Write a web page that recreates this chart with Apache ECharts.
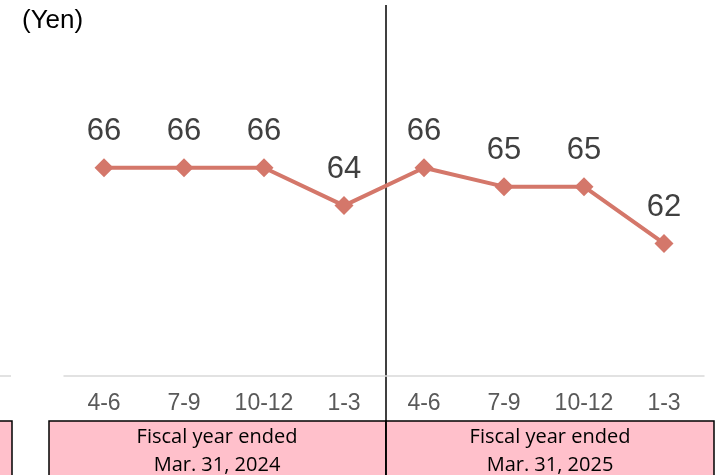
<!DOCTYPE html>
<html>
<head>
  <meta charset="utf-8">
  <script src="https://cdn.jsdelivr.net/npm/echarts@6/dist/echarts.min.js"></script>
  <style>
    html, body { margin: 0; background: #fff; }
    #main { width: 724px; height: 475px; }
  </style>
</head>
<body>
  <div id="main"></div>
  <script>
    var quarters = ['4-6', '7-9', '10-12', '1-3', '4-6', '7-9', '10-12', '1-3'];
    var prices = [66, 66, 66, 64, 66, 65, 65, 62];
    var fiscalYears = ['Fiscal year ended\nMar. 31, 2024', 'Fiscal year ended\nMar. 31, 2025'];

    var chart = echarts.init(document.getElementById('main'));

    var boxStyle = { fill: '#FFC0CB', stroke: '#000', lineWidth: 1.5 };
    var boxText = {
      fill: '#000', fontSize: 20, lineHeight: 28,
      fontFamily: 'Open Sans', align: 'center', verticalAlign: 'top'
    };

    var option = {
      animation: false,
      grid: { left: 64, right: 20, top: 92, bottom: 99 },
      xAxis: {
        type: 'category',
        data: quarters,
        axisLine: { lineStyle: { color: '#D9D9D9', width: 1.5 } },
        axisTick: { show: false },
        axisLabel: {
          color: '#595959', fontSize: 23, margin: 16,
          fontFamily: 'Liberation Sans'
        }
      },
      yAxis: {
        type: 'value', min: 55, max: 70,
        show: false
      },
      series: [{
        type: 'line',
        data: prices,
        symbol: 'diamond',
        symbolSize: 19,
        itemStyle: { color: '#D4776A' },
        lineStyle: { color: '#D4776A', width: 4 },
        label: {
          show: true, position: 'top', distance: 11,
          color: '#404040', fontSize: 31, fontFamily: 'Liberation Sans'
        }
      }],
      graphic: [
        { type: 'line', shape: { x1: 0, y1: 376, x2: 11, y2: 376 },
          style: { stroke: '#D9D9D9', lineWidth: 1.5 } },
        { type: 'text', left: 22, top: 8,
          style: { text: '(Yen)', fill: '#000', fontSize: 26, fontFamily: 'Liberation Sans' } },
        { type: 'rect', shape: { x: -5, y: 421, width: 17, height: 60 }, style: boxStyle },
        { type: 'rect', shape: { x: 49, y: 421, width: 337, height: 60 }, style: boxStyle },
        { type: 'rect', shape: { x: 386, y: 421, width: 328, height: 60 }, style: boxStyle },
        { type: 'text', x: 217, y: 423, style: Object.assign({ text: fiscalYears[0] }, boxText) },
        { type: 'text', x: 550, y: 423, style: Object.assign({ text: fiscalYears[1] }, boxText) },
        { type: 'line', shape: { x1: 386, y1: 5, x2: 386, y2: 475 },
          style: { stroke: '#000', lineWidth: 1.5 } }
      ]
    };

    chart.setOption(option);
  </script>
</body>
</html>
